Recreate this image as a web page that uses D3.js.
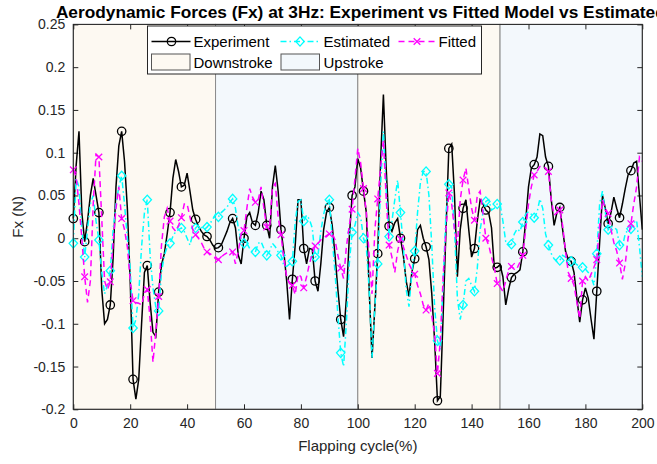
<!DOCTYPE html>
<html>
<head>
<meta charset="utf-8">
<script src="https://cdn.jsdelivr.net/npm/d3@7/dist/d3.min.js"></script>
<style>
  body { margin: 0; background: #fff; }
  svg { font-family: "Liberation Sans", Arial, Helvetica, sans-serif; }
</style>
</head>
<body>
<svg width="657" height="464"></svg>
<script>
// flapping cycle in %, one sample per percent
const cycle = d3.range(0, 201);

const experiment = [
  0.023, 0.085, 0.125, 0.030, -0.004, 0.020, 0.050, 0.070, 0.050, 0.030,
  -0.060, -0.100, -0.095, -0.078, -0.023, 0.060, 0.108, 0.125, 0.090, 0.035,
  -0.050, -0.165, -0.188, -0.165, -0.100, -0.040, -0.032, -0.075, -0.110, -0.115,
  -0.063, -0.031, -0.018, 0.005, 0.030, 0.070, 0.092, 0.078, 0.060, 0.062,
  0.076, 0.055, 0.033, 0.022, 0.014, 0.008, 0.004, 0.002, -0.002, -0.008,
  -0.012, -0.011, -0.008, 0.000, 0.008, 0.018, 0.023, 0.012, -0.020, -0.030,
  0.000, 0.025, 0.030, 0.018, 0.015, 0.030, 0.055, 0.045, 0.015, 0.000,
  0.060, 0.085, 0.055, 0.010, -0.016, -0.050, -0.095, -0.048, -0.008, 0.045,
  0.045, -0.012, -0.030, -0.012, -0.013, -0.050, -0.062, -0.030, 0.010, 0.030,
  0.036, 0.015, -0.020, -0.060, -0.095, -0.115, -0.070, 0.000, 0.050, 0.060,
  0.093, 0.082, 0.055, 0.030, -0.060, -0.140, -0.080, -0.018, 0.090, 0.168,
  0.080, 0.014, 0.008, 0.018, 0.023, 0.000, -0.020, -0.050, -0.068, -0.040,
  -0.024, 0.010, 0.015, 0.000, -0.010, -0.025, -0.065, -0.120, -0.190, -0.185,
  -0.090, 0.010, 0.105, 0.110, 0.050, -0.045, 0.010, 0.035, 0.045, 0.010,
  -0.022, -0.012, 0.020, 0.045, 0.040, 0.033, 0.030, 0.012, -0.035, -0.034,
  -0.031, -0.045, -0.078, -0.060, -0.046, -0.042, -0.040, -0.037, -0.016, 0.020,
  0.060, 0.082, 0.086, 0.095, 0.122, 0.120, 0.095, 0.084, 0.045, 0.015,
  0.030, 0.036, 0.010, -0.015, -0.025, -0.027, -0.040, -0.070, -0.098, -0.072,
  -0.058, -0.070, -0.095, -0.118, -0.062, -0.005, 0.050, 0.035, 0.017, 0.030,
  0.048, 0.035, 0.024, 0.040, 0.058, 0.074, 0.079, 0.088, 0.090, 0.050,
  0.010
];

const estimated = [
  -0.006, 0.070, 0.060, 0.010, -0.022, 0.010, 0.040, 0.050, 0.020, -0.002,
  -0.040, -0.065, -0.055, -0.038, 0.010, 0.040, 0.060, 0.073, 0.040, 0.000,
  -0.035, -0.105, -0.095, -0.065, -0.010, 0.030, 0.045, -0.020, -0.058, -0.080,
  -0.085, -0.040, -0.020, -0.010, -0.006, 0.002, 0.008, 0.010, 0.012, 0.008,
  0.000, -0.008, 0.005, 0.012, 0.015, 0.013, 0.010, 0.013, 0.017, 0.022,
  0.028, 0.025, 0.030, 0.033, 0.036, 0.042, 0.046, 0.035, 0.012, -0.002,
  -0.006, -0.006, -0.012, -0.016, -0.016, -0.006, -0.004, -0.012, -0.020, -0.015,
  -0.006, -0.010, -0.016, -0.020, -0.032, -0.033, -0.030, -0.027, 0.020, 0.043,
  0.045, 0.020, 0.027, 0.022, 0.012, -0.022, -0.020, 0.008, 0.028, 0.042,
  0.045, 0.000, -0.040, -0.090, -0.134, -0.150, -0.098, -0.030, 0.007, 0.015,
  0.030, 0.025, 0.000, -0.010, -0.060, -0.140, -0.080, -0.030, 0.060, 0.125,
  0.055, 0.002, 0.020, 0.045, 0.068, 0.030, -0.010, -0.060, -0.080, -0.040,
  -0.015, 0.030, 0.065, 0.078, 0.078, 0.050, -0.008, -0.080, -0.120, -0.130,
  -0.050, 0.030, 0.063, 0.060, 0.010, -0.070, -0.095, -0.078, -0.050, -0.047,
  -0.055, -0.062, -0.035, 0.010, 0.030, 0.043, 0.045, 0.033, 0.035, 0.040,
  0.040, 0.020, -0.004, -0.008, -0.007, 0.005, 0.011, 0.008, 0.019, 0.028,
  0.031, 0.028, 0.024, 0.030, 0.046, 0.035, 0.005, -0.008, -0.018, -0.024,
  -0.027, -0.026, -0.020, -0.022, -0.025, -0.027, -0.028, -0.031, -0.033, -0.034,
  -0.036, -0.040, -0.045, -0.055, -0.018, 0.040, 0.055, 0.030, 0.010, 0.014,
  0.013, 0.010, -0.008, -0.010, 0.005, 0.010, 0.011, 0.018, 0.021, -0.010,
  -0.045
];

const fitted = [
  0.080, 0.072, 0.040, 0.000, -0.045, -0.075, -0.050, 0.040, 0.098, 0.095,
  0.023, -0.050, -0.060, -0.051, -0.005, 0.035, 0.060, 0.023, 0.010, -0.010,
  -0.050, -0.073, -0.075, -0.076, -0.078, -0.065, -0.060, -0.094, -0.145, -0.110,
  -0.068, -0.008, 0.025, 0.035, 0.020, 0.012, 0.008, 0.015, 0.024, 0.040,
  0.040, 0.025, 0.010, 0.004, 0.000, -0.005, -0.012, -0.016, -0.018, -0.020,
  -0.024, -0.025, -0.022, -0.019, -0.017, -0.015, -0.016, -0.030, -0.015, 0.005,
  0.009, 0.035, 0.058, 0.048, 0.042, 0.045, 0.060, 0.035, 0.013, 0.012,
  0.060, 0.064, 0.025, 0.004, -0.024, -0.045, -0.053, -0.055, -0.066, -0.042,
  -0.045, -0.058, -0.045, -0.030, -0.018, -0.009, -0.006, -0.002, 0.000, 0.003,
  0.005, 0.006, -0.002, -0.020, -0.035, -0.047, -0.010, 0.015, 0.034, 0.070,
  0.105, 0.088, 0.058, 0.030, -0.020, -0.065, 0.010, 0.046, 0.082, 0.115,
  0.045, -0.008, -0.022, -0.040, -0.015, -0.001, -0.010, -0.020, -0.030, -0.037,
  -0.042, -0.055, -0.065, -0.078, -0.084, -0.076, -0.090, -0.113, -0.158, -0.120,
  -0.045, 0.010, 0.053, 0.040, 0.010, -0.008, 0.045, 0.068, 0.082, 0.058,
  0.035, 0.021, 0.050, 0.055, 0.030, 0.000, -0.008, -0.022, -0.035, -0.053,
  -0.057, -0.062, -0.050, -0.038, -0.033, -0.036, -0.035, -0.028, -0.020, 0.010,
  0.040, 0.060, 0.074, 0.078, 0.084, 0.084, 0.082, 0.078, 0.045, 0.027,
  0.030, 0.033, 0.015, -0.015, -0.040, -0.047, -0.055, -0.075, -0.094, -0.050,
  -0.045, -0.050, -0.042, -0.034, -0.025, 0.015, 0.045, 0.035, 0.029, 0.010,
  -0.005, -0.015, -0.029, -0.048, -0.030, 0.000, 0.017, 0.040, 0.060, 0.095,
  0.090
];

// samples that carry a marker
const markerIdx = [0, 4, 9, 13, 17, 21, 26, 30, 34, 38, 43, 47, 51, 56, 60, 64, 68, 73, 77, 81,
  85, 90, 94, 98, 102, 107, 111, 115, 120, 124, 128, 132, 137, 141, 145, 149, 154, 158, 162,
  167, 171, 175, 179, 184, 188, 192, 196];

// stroke phases shaded behind the curves
const phaseStart = [0, 50, 100, 150];
const phaseEnd = [50, 100, 150, 200];
const phaseName = ['Downstroke', 'Upstroke', 'Downstroke', 'Upstroke'];

const xTicks = [0, 20, 40, 60, 80, 100, 120, 140, 160, 180, 200];
const yTicks = [-0.2, -0.15, -0.1, -0.05, 0, 0.05, 0.1, 0.15, 0.2, 0.25];

const svg = d3.select('svg');
const width = +svg.attr('width');
const height = +svg.attr('height');

const margin = {top: 24.4, right: 14.7, bottom: 54.7, left: 73.3};
const innerWidth = width - margin.left - margin.right;
const innerHeight = height - margin.top - margin.bottom;

const axisColor = '#262626';
const phaseColor = {Downstroke: '#fdf9f2', Upstroke: '#f3f8fc'};

const xScale = d3.scaleLinear().domain([0, 200]).range([0, innerWidth]);
const yScale = d3.scaleLinear().domain([-0.2, 0.25]).range([innerHeight, 0]);

const g = svg.append('g')
  .attr('transform', `translate(${margin.left},${margin.top})`);

// phase patches
g.selectAll('rect.phase').data(phaseStart)
  .enter().append('rect')
    .attr('class', 'phase')
    .attr('x', (d, i) => xScale(d))
    .attr('y', yScale(0.25))
    .attr('width', (d, i) => xScale(phaseEnd[i]) - xScale(d))
    .attr('height', yScale(-0.2) - yScale(0.25))
    .attr('fill', (d, i) => phaseColor[phaseName[i]])
    .attr('stroke', '#8a8a8a')
    .attr('stroke-width', 1);

const tickFmt = d => String(+d.toFixed(2));

// axes with inward ticks, box on
const xAxis = d3.axisBottom(xScale).tickValues(xTicks).tickSize(-5).tickPadding(9).tickFormat(tickFmt);
const xAxisTop = d3.axisTop(xScale).tickValues(xTicks).tickSize(-5).tickFormat('');
const yAxis = d3.axisLeft(yScale).tickValues(yTicks).tickSize(-5).tickPadding(8).tickFormat(tickFmt);
const yAxisRight = d3.axisRight(yScale).tickValues(yTicks).tickSize(-5).tickFormat('');

const styleAxis = sel => {
  sel.selectAll('.domain').remove();
  sel.selectAll('line').attr('stroke', axisColor);
  sel.selectAll('text').attr('fill', axisColor).style('font-size', '14px')
    .style('font-family', '"Liberation Sans", Arial, sans-serif');
};

g.append('g').attr('transform', `translate(0,${innerHeight})`).call(xAxis).call(styleAxis);
g.append('g').call(xAxisTop).call(styleAxis);
g.append('g').call(yAxis).call(styleAxis);
g.append('g').attr('transform', `translate(${innerWidth},0)`).call(yAxisRight).call(styleAxis);

const line = values => d3.line()
  .x((d, i) => xScale(cycle[i]))
  .y(d => yScale(d))(values);

// Experiment
g.append('path')
  .attr('d', line(experiment))
  .attr('fill', 'none')
  .attr('stroke', '#000')
  .attr('stroke-width', 1.5);
g.selectAll('circle.exp').data(markerIdx)
  .enter().append('circle')
    .attr('class', 'exp')
    .attr('cx', i => xScale(cycle[i]))
    .attr('cy', i => yScale(experiment[i]))
    .attr('r', 4.2)
    .attr('fill', 'none')
    .attr('stroke', '#000')
    .attr('stroke-width', 1.3);

// Estimated
g.append('path')
  .attr('d', line(estimated))
  .attr('fill', 'none')
  .attr('stroke', '#00ffff')
  .attr('stroke-width', 1.5)
  .attr('stroke-dasharray', '6,3,1.5,3');
const diamond = (x, y) => `M${x},${y - 4.6}L${x + 4.2},${y}L${x},${y + 4.6}L${x - 4.2},${y}Z`;
g.selectAll('path.est').data(markerIdx)
  .enter().append('path')
    .attr('class', 'est')
    .attr('d', i => diamond(xScale(cycle[i]), yScale(estimated[i])))
    .attr('fill', 'none')
    .attr('stroke', '#00ffff')
    .attr('stroke-width', 1.3);

// Fitted
g.append('path')
  .attr('d', line(fitted))
  .attr('fill', 'none')
  .attr('stroke', '#ff00ff')
  .attr('stroke-width', 1.5)
  .attr('stroke-dasharray', '6,4');
const cross = (x, y) => `M${x - 3.3},${y - 3.3}L${x + 3.3},${y + 3.3}M${x - 3.3},${y + 3.3}L${x + 3.3},${y - 3.3}`;
g.selectAll('path.fit').data(markerIdx)
  .enter().append('path')
    .attr('class', 'fit')
    .attr('d', i => cross(xScale(cycle[i]), yScale(fitted[i])))
    .attr('fill', 'none')
    .attr('stroke', '#ff00ff')
    .attr('stroke-width', 1.3);

// axes box
g.append('rect')
  .attr('width', innerWidth)
  .attr('height', innerHeight)
  .attr('fill', 'none')
  .attr('stroke', axisColor)
  .attr('stroke-width', 1);

// labels
g.append('text')
  .attr('x', innerWidth / 2)
  .attr('y', innerHeight + 42)
  .attr('text-anchor', 'middle')
  .attr('fill', axisColor)
  .style('font-size', '15px')
  .text('Flapping cycle(%)');

g.append('text')
  .attr('transform', `translate(${-50},${innerHeight / 2}) rotate(-90)`)
  .attr('text-anchor', 'middle')
  .attr('fill', axisColor)
  .style('font-size', '15px')
  .text('Fx (N)');

// title is wider than the figure, as in the original export
g.append('text')
  .attr('x', innerWidth / 2 + 3)
  .attr('y', -6)
  .attr('text-anchor', 'middle')
  .attr('fill', '#000')
  .style('font-size', '17.3px')
  .style('font-weight', 'bold')
  .text('Aerodynamic Forces (Fx) at 3Hz: Experiment vs Fitted Model vs Estimated');

// legend
const lg = svg.append('g').attr('transform', 'translate(147.5,26)');
lg.append('rect')
  .attr('width', 334)
  .attr('height', 48)
  .attr('fill', '#fff')
  .attr('stroke', axisColor)
  .attr('stroke-width', 1);

const legendText = (x, y, t) => lg.append('text')
  .attr('x', x).attr('y', y)
  .attr('fill', '#000')
  .style('font-size', '15px')
  .text(t);

// row 1
lg.append('line').attr('x1', 4).attr('x2', 43).attr('y1', 15.5).attr('y2', 15.5)
  .attr('stroke', '#000').attr('stroke-width', 1.5);
lg.append('circle').attr('cx', 24).attr('cy', 15.5).attr('r', 4.2)
  .attr('fill', 'none').attr('stroke', '#000').attr('stroke-width', 1.3);
legendText(46, 21, 'Experiment');

lg.append('line').attr('x1', 133).attr('x2', 173).attr('y1', 15.5).attr('y2', 15.5)
  .attr('stroke', '#00ffff').attr('stroke-width', 1.5).attr('stroke-dasharray', '6,3,1.5,3');
lg.append('path').attr('d', diamond(152.5, 15.5))
  .attr('fill', 'none').attr('stroke', '#00ffff').attr('stroke-width', 1.3);
legendText(176, 21, 'Estimated');

lg.append('line').attr('x1', 251).attr('x2', 288).attr('y1', 15.5).attr('y2', 15.5)
  .attr('stroke', '#ff00ff').attr('stroke-width', 1.5).attr('stroke-dasharray', '6,4');
lg.append('path').attr('d', cross(269.5, 15.5))
  .attr('fill', 'none').attr('stroke', '#ff00ff').attr('stroke-width', 1.3);
legendText(291, 21, 'Fitted');

// row 2
lg.append('rect').attr('x', 4).attr('y', 28).attr('width', 38.5).attr('height', 16)
  .attr('fill', phaseColor.Downstroke).attr('stroke', '#555').attr('stroke-width', 1);
legendText(46, 42, 'Downstroke');
lg.append('rect').attr('x', 133.5).attr('y', 28).attr('width', 38.5).attr('height', 16)
  .attr('fill', phaseColor.Upstroke).attr('stroke', '#555').attr('stroke-width', 1);
legendText(176, 42, 'Upstroke');
</script>
</body>
</html>
